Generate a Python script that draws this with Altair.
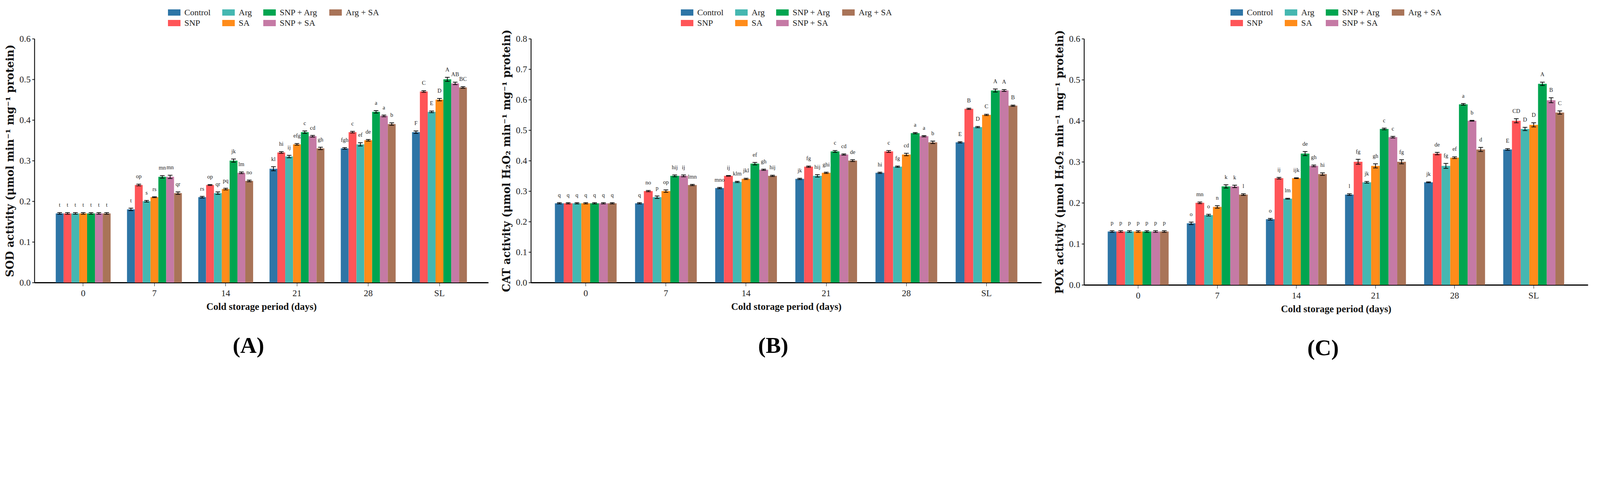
import altair as alt
import pandas as pd

days = ["0", "7", "14", "21", "28", "SL"]
treatments = ["Control", "SNP", "Arg", "SA", "SNP + Arg", "SNP + SA", "Arg + SA"]
treatment_colors = ["#2E75A6", "#FF5558", "#45B7B1", "#FF8C1A", "#00A550", "#C57AA5", "#A97458"]
legend_order = ["Control", "Arg", "SNP + Arg", "Arg + SA", "SNP", "SA", "SNP + SA"]

# ---- SOD (A) ----
sod_values = [
    [0.17, 0.17, 0.17, 0.17, 0.17, 0.17, 0.17],
    [0.18, 0.24, 0.20, 0.21, 0.26, 0.26, 0.22],
    [0.21, 0.24, 0.22, 0.23, 0.30, 0.27, 0.25],
    [0.28, 0.32, 0.31, 0.34, 0.37, 0.36, 0.33],
    [0.33, 0.37, 0.34, 0.35, 0.42, 0.41, 0.39],
    [0.37, 0.47, 0.42, 0.45, 0.50, 0.49, 0.48],
]
sod_errors = [
    [0.002, 0.002, 0.002, 0.002, 0.002, 0.002, 0.002],
    [0.003, 0.002, 0.002, 0.001, 0.003, 0.004, 0.003],
    [0.002, 0.001, 0.003, 0.002, 0.004, 0.002, 0.002],
    [0.005, 0.002, 0.003, 0.002, 0.003, 0.002, 0.003],
    [0.002, 0.002, 0.004, 0.002, 0.003, 0.002, 0.003],
    [0.003, 0.002, 0.002, 0.003, 0.005, 0.003, 0.002],
]
sod_letters = [
    ["t", "t", "t", "t", "t", "t", "t"],
    ["t", "op", "s", "rs", "mn", "mn", "qr"],
    ["rs", "op", "qr", "pq", "jk", "lm", "no"],
    ["kl", "hi", "ij", "efg", "c", "cd", "gh"],
    ["fgh", "c", "ef", "de", "a", "a", "b"],
    ["F", "C", "E", "D", "A", "AB", "BC"],
]
sod_ticks = [0.0, 0.1, 0.2, 0.3, 0.4, 0.5, 0.6]

# ---- CAT (B) ----
cat_values = [
    [0.26, 0.26, 0.26, 0.26, 0.26, 0.26, 0.26],
    [0.26, 0.30, 0.28, 0.30, 0.35, 0.35, 0.32],
    [0.31, 0.35, 0.33, 0.34, 0.39, 0.37, 0.35],
    [0.34, 0.38, 0.35, 0.36, 0.43, 0.42, 0.40],
    [0.36, 0.43, 0.38, 0.42, 0.49, 0.48, 0.46],
    [0.46, 0.57, 0.51, 0.55, 0.63, 0.63, 0.58],
]
cat_errors = [
    [0.002, 0.002, 0.002, 0.002, 0.002, 0.002, 0.002],
    [0.002, 0.002, 0.004, 0.004, 0.003, 0.003, 0.002],
    [0.002, 0.001, 0.002, 0.002, 0.004, 0.002, 0.002],
    [0.002, 0.002, 0.004, 0.002, 0.003, 0.002, 0.003],
    [0.002, 0.003, 0.002, 0.004, 0.002, 0.002, 0.004],
    [0.002, 0.002, 0.002, 0.002, 0.005, 0.003, 0.002],
]
cat_letters = [
    ["q", "q", "q", "q", "q", "q", "q"],
    ["q", "no", "p", "op", "hij", "ij", "lmn"],
    ["mno", "ij", "klm", "jkl", "ef", "gh", "hij"],
    ["jk", "fg", "hij", "ghi", "c", "cd", "de"],
    ["hi", "c", "fg", "cd", "a", "a", "b"],
    ["E", "B", "D", "C", "A", "A", "B"],
]
cat_ticks = [0.0, 0.1, 0.2, 0.3, 0.4, 0.5, 0.6, 0.7, 0.8]

# ---- POX (C) ----
pox_values = [
    [0.13, 0.13, 0.13, 0.13, 0.13, 0.13, 0.13],
    [0.15, 0.20, 0.17, 0.19, 0.24, 0.24, 0.22],
    [0.16, 0.26, 0.21, 0.26, 0.32, 0.29, 0.27],
    [0.22, 0.30, 0.25, 0.29, 0.38, 0.36, 0.30],
    [0.25, 0.32, 0.29, 0.31, 0.44, 0.40, 0.33],
    [0.33, 0.40, 0.38, 0.39, 0.49, 0.45, 0.42],
]
pox_errors = [
    [0.002, 0.002, 0.002, 0.002, 0.002, 0.002, 0.002],
    [0.003, 0.002, 0.002, 0.003, 0.004, 0.003, 0.002],
    [0.002, 0.002, 0.001, 0.001, 0.005, 0.002, 0.003],
    [0.002, 0.006, 0.002, 0.005, 0.002, 0.002, 0.005],
    [0.001, 0.003, 0.006, 0.002, 0.002, 0.001, 0.005],
    [0.002, 0.005, 0.004, 0.005, 0.004, 0.006, 0.004],
]
pox_letters = [
    ["p", "p", "p", "p", "p", "p", "p"],
    ["o", "mn", "o", "n", "k", "k", "l"],
    ["o", "ij", "lm", "ijk", "de", "gh", "hi"],
    ["l", "fg", "jk", "gh", "c", "c", "fg"],
    ["jk", "de", "fg", "ef", "a", "b", "d"],
    ["E", "CD", "D", "D", "A", "B", "C"],
]
pox_ticks = [0.0, 0.1, 0.2, 0.3, 0.4, 0.5, 0.6]

panel_labels = ["(A)", "(B)", "(C)"]

SERIF = "Liberation Serif"
TITLE_SERIF = "DejaVu Serif"


def build_df(values, errors, letters):
    rows = []
    for i, d in enumerate(days):
        for j, t in enumerate(treatments):
            v = values[i][j]
            e = errors[i][j]
            rows.append({"Day": d, "Treatment": t, "Value": v,
                         "Lo": v - e, "Hi": v + e, "Letter": letters[i][j]})
    return pd.DataFrame(rows)


def panel(df, ytitle, ymax, ticks, w, h, label, lx, ly):
    cmap = dict(zip(treatments, treatment_colors))
    leg_colors = [cmap[t] for t in legend_order]
    xaxis = alt.Axis(title="Cold storage period (days)", labelAngle=0,
                     labelFont=SERIF, labelFontSize=23, labelColor="#222",
                     titleFont=SERIF, titleFontSize=25, titleFontWeight="bold",
                     titleColor="#111", titlePadding=10,
                     domainColor="black", domainWidth=3, tickColor="#222",
                     tickSize=9, tickWidth=1.1, labelPadding=7)
    x_enc = alt.X("Day:N", sort=days,
                  scale=alt.Scale(paddingInner=0.23, paddingOuter=0.3),
                  axis=xaxis)
    xo = alt.XOffset("Treatment:N", sort=treatments,
                     scale=alt.Scale(paddingInner=0, paddingOuter=0))
    yaxis = alt.Axis(title=ytitle, values=ticks, format=".1f", grid=False,
                     labelFont=SERIF, labelFontSize=23, labelColor="#222",
                     titleFont=TITLE_SERIF, titleFontSize=27, titleFontWeight="bold",
                     titleColor="#111", titlePadding=9,
                     domainColor="black", domainWidth=2.2, tickColor="black",
                     tickSize=6, tickWidth=1.8, labelPadding=4)
    yscale = alt.Scale(domain=[0, ymax], nice=False, zero=True)
    base = alt.Chart(df).encode(x=x_enc, xOffset=xo)
    bars = base.mark_bar().encode(
        y=alt.Y("Value:Q", scale=yscale, axis=yaxis),
        color=alt.Color("Treatment:N",
                        scale=alt.Scale(domain=legend_order, range=leg_colors),
                        legend=alt.Legend(title=None, orient="none",
                                          legendX=lx, legendY=ly,
                                          columns=4, direction="horizontal",
                                          symbolType="M-1,-0.5H1V0.5H-1Z",
                                          symbolSize=1024, symbolStrokeWidth=0,
                                          symbolOpacity=1,
                                          labelFont=SERIF, labelFontSize=22,
                                          labelColor="#222", labelOffset=10,
                                          columnPadding=29, rowPadding=0)),
    )
    rules = base.mark_rule(color="black", strokeWidth=1.8).encode(
        y=alt.Y("Lo:Q", scale=yscale, axis=yaxis), y2="Hi:Q")
    cap_hi = base.mark_tick(color="black", thickness=1.8, size=12, opacity=1).encode(
        y=alt.Y("Hi:Q", scale=yscale, axis=yaxis))
    cap_lo = base.mark_tick(color="black", thickness=1.8, size=12, opacity=1).encode(
        y=alt.Y("Lo:Q", scale=yscale, axis=yaxis))
    text = base.mark_text(font=SERIF, fontSize=14.5, color="#222",
                          baseline="alphabetic", dy=-15).encode(
        y=alt.Y("Hi:Q", scale=yscale, axis=yaxis), text="Letter:N")
    tag = alt.Chart(pd.DataFrame({"tag": [label]})).mark_text(
        font=SERIF, fontSize=58, fontWeight="bold", color="black",
        align="center", baseline="middle",
    ).encode(text="tag:N", x=alt.value(w / 2 - 33), y=alt.value(h + 163))
    return alt.layer(bars, rules, cap_hi, cap_lo, text, tag).properties(
        width=w, height=h,
    )


chart_a = panel(build_df(sod_values, sod_errors, sod_letters),
                "SOD activity (μmol min⁻¹ mg⁻¹ protein)", 0.6, sod_ticks,
                1162, 624, panel_labels[0], 342, -83)
chart_b = panel(build_df(cat_values, cat_errors, cat_letters),
                "CAT activity (μmol H₂O₂ min⁻¹ mg⁻¹ protein)", 0.8, cat_ticks,
                1307, 624, panel_labels[1], 384, -83)
chart_c = panel(build_df(pox_values, pox_errors, pox_letters),
                "POX activity (μmol H₂O₂ min⁻¹ mg⁻¹ protein)", 0.6, pox_ticks,
                1290, 630, panel_labels[2], 375, -83)

chart = alt.hconcat(chart_a, chart_b, chart_c, spacing=33).resolve_scale(
    color="independent", x="independent", y="independent", xOffset="independent"
).resolve_legend(color="independent").configure_view(stroke=None).properties(
    padding={"left": 4, "top": 8, "right": 4, "bottom": 4},
)

chart.save("out.html", embed_options={"renderer": "svg", "actions": False})
